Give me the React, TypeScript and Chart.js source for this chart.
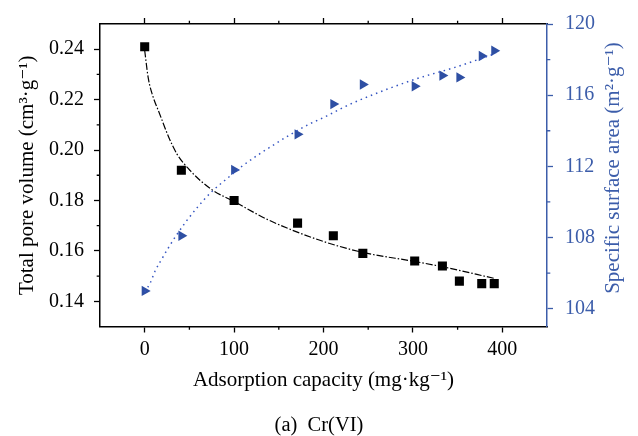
import React, { useEffect, useRef } from "react";
import { Chart, registerables } from "chart.js";

Chart.register(...registerables);

// Measured data
const capacity = [0, 41, 100, 171, 211, 244, 302, 333, 352, 377, 391];
const poreVolume = [0.241, 0.192, 0.18, 0.171, 0.166, 0.159, 0.156, 0.154, 0.148, 0.147, 0.147];
const surfaceArea = [105.0, 108.1, 111.8, 113.8, 115.5, 116.6, 116.5, 117.1, 117.0, 118.2, 118.5];

// Fitted curves
const poreFitX = [0, 4, 9, 16, 27, 36, 51, 75, 100, 137, 196, 244, 302, 333, 391];
const poreFitY = [0.2395, 0.2285, 0.2215, 0.215, 0.205, 0.1985, 0.1918, 0.1843, 0.1796, 0.1725, 0.1642, 0.1594, 0.1558, 0.1537, 0.1491];
const areaFitX = [0, 6, 12, 19, 26, 34, 46, 60, 75, 92, 109, 127, 145, 164, 184, 204, 223, 244, 304, 345, 393];
const areaFitY = [104.95, 105.43, 106.16, 106.78, 107.38, 108.02, 108.88, 109.76, 110.58, 111.31, 112.01, 112.65, 113.23, 113.82, 114.37, 114.84, 115.33, 115.8, 116.92, 117.53, 118.35];

// Axis ticks
const xTicks = [0, 100, 200, 300, 400];
const yTicks = [0.14, 0.16, 0.18, 0.2, 0.22, 0.24];
const y2Ticks = [104, 108, 112, 116, 120];
const xMinorTicks = [50, 150, 250, 350];
const yMinorTicks = [0.15, 0.17, 0.19, 0.21, 0.23];
const y2MinorTicks = [106, 110, 114, 118];

const xTitle = "Adsorption capacity (mg·kg⁻¹)";
const yTitle = "Total pore volume (cm³·g⁻¹)";
const y2Title = "Specific surface area (m²·g⁻¹)";
const subTitle = "(a)  Cr(VI)";

const SERIF = "'Liberation Serif', 'DejaVu Serif', serif";
const BLUE = "#2E4FA3";
const AXIS_BLUE = "#3C5DAA";
const DOT_BLUE = "#3555C2";

const pts = (xs: number[], ys: number[]) => xs.map((x, i) => ({ x, y: ys[i] }));
const setTicks = (vals: number[]) => (s: any) => {
  s.ticks = vals.map((value) => ({ value }));
};

const extrasPlugin = {
  id: "extras",
  afterDraw(chart: any) {
    const ctx = chart.ctx;
    const { x, y, y2 } = chart.scales;
    const area = chart.chartArea;
    ctx.save();
    ctx.lineWidth = 1.3;
    // minor ticks
    ctx.strokeStyle = "#000";
    ctx.beginPath();
    for (const v of xMinorTicks) {
      const px = x.getPixelForValue(v);
      ctx.moveTo(px, area.bottom);
      ctx.lineTo(px, area.bottom + 3.3);
      ctx.moveTo(px, area.top);
      ctx.lineTo(px, area.top - 3.3);
    }
    for (const v of yMinorTicks) {
      const py = y.getPixelForValue(v);
      ctx.moveTo(area.left, py);
      ctx.lineTo(area.left - 3.3, py);
    }
    ctx.stroke();
    ctx.strokeStyle = AXIS_BLUE;
    ctx.beginPath();
    for (const v of y2MinorTicks) {
      const py = y2.getPixelForValue(v);
      ctx.moveTo(area.right, py);
      ctx.lineTo(area.right + 3.3, py);
    }
    ctx.stroke();
    // right axis title, reading bottom to top
    ctx.fillStyle = AXIS_BLUE;
    ctx.font = `21px ${SERIF}`;
    ctx.textAlign = "center";
    ctx.textBaseline = "middle";
    ctx.translate(613, 168);
    ctx.rotate(-Math.PI / 2);
    ctx.fillText(y2Title, 0, 0);
    ctx.restore();
  },
};

export default function App() {
  const ref = useRef<HTMLCanvasElement>(null);
  useEffect(() => {
    document.body.style.margin = "0";
    const canvas = ref.current!;
    const chart = new Chart(canvas, {
      type: "scatter",
      data: {
        datasets: [
          {
            label: "pore fit",
            data: pts(poreFitX, poreFitY),
            yAxisID: "y",
            showLine: true,
            borderColor: "#000",
            borderWidth: 1.2,
            borderDash: [7, 2, 1.5, 2],
            pointRadius: 0,
            cubicInterpolationMode: "monotone",
          },
          {
            label: "area fit",
            data: pts(areaFitX, areaFitY),
            yAxisID: "y2",
            showLine: true,
            borderColor: DOT_BLUE,
            borderWidth: 1.5,
            borderDash: [1.5, 4],
            pointRadius: 0,
            cubicInterpolationMode: "monotone",
          },
          {
            label: "Total pore volume",
            data: pts(capacity, poreVolume),
            yAxisID: "y",
            pointStyle: "rect",
            pointRadius: 6.4,
            backgroundColor: "#000",
            borderColor: "#000",
            borderWidth: 0,
          },
          {
            label: "Specific surface area",
            data: pts(capacity, surfaceArea),
            yAxisID: "y2",
            pointStyle: "triangle",
            rotation: 90,
            pointRadius: 6,
            backgroundColor: BLUE,
            borderColor: BLUE,
            borderWidth: 0,
          },
        ],
      },
      options: {
        responsive: false,
        animation: false,
        events: [],
        layout: { padding: 0 },
        plugins: {
          legend: { display: false },
          tooltip: { enabled: false },
          title: {
            display: true,
            position: "bottom",
            text: subTitle,
            color: "#000",
            font: { family: SERIF, size: 20.5, weight: "normal", lineHeight: 1.0 },
            padding: { top: 3, bottom: 0 },
          },
        },
        scales: {
          x: {
            type: "linear",
            position: "bottom",
            min: -50,
            max: 450,
            afterBuildTicks: setTicks(xTicks),
            afterFit: (s: any) => { s.height = 86; },
            border: { color: "#000", width: 1.5 },
            grid: { drawOnChartArea: false, drawTicks: true, tickLength: 6, tickColor: "#000", tickWidth: 1.3 },
            ticks: { color: "#000", padding: 5, font: { family: SERIF, size: 20 } },
            title: { display: true, text: xTitle, color: "#000", font: { family: SERIF, size: 21 }, padding: { top: 0, bottom: 19 } },
          },
          x2: {
            type: "linear",
            position: "top",
            min: -50,
            max: 450,
            afterBuildTicks: setTicks(xTicks),
            afterFit: (s: any) => { s.height = 18; },
            border: { color: "#000", width: 1.5 },
            grid: { drawOnChartArea: false, drawTicks: true, tickLength: 6, tickColor: "#000", tickWidth: 1.3 },
            ticks: { display: false },
          },
          y: {
            type: "linear",
            position: "left",
            min: 0.13,
            max: 0.25,
            afterBuildTicks: setTicks(yTicks),
            afterFit: (s: any) => { s.width = 100; },
            border: { color: "#000", width: 1.5 },
            grid: { drawOnChartArea: false, drawTicks: true, tickLength: 6, tickColor: "#000", tickWidth: 1.3 },
            ticks: {
              color: "#000",
              padding: 10,
              font: { family: SERIF, size: 20 },
              callback: (v: any) => Number(v).toFixed(2),
            },
            title: { display: true, text: yTitle, color: "#000", font: { family: SERIF, size: 21 }, padding: { top: 15, bottom: 0 } },
          },
          y2: {
            type: "linear",
            position: "right",
            min: 103,
            max: 120,
            afterBuildTicks: setTicks(y2Ticks),
            afterFit: (s: any) => { s.width = 91; },
            border: { color: AXIS_BLUE, width: 1.5 },
            grid: { drawOnChartArea: false, drawTicks: true, tickLength: 6, tickColor: AXIS_BLUE, tickWidth: 1.3 },
            ticks: {
              color: AXIS_BLUE,
              padding: 12,
              font: { family: SERIF, size: 20 },
              callback: (v: any) => String(v),
            },
          },
        },
      },
      plugins: [extrasPlugin],
    } as any);
    return () => chart.destroy();
  }, []);
  return (
    <div style={{ position: "absolute", left: 0, top: 0 }}>
      <canvas ref={ref} width={638} height={436} style={{ display: "block" }} />
    </div>
  );
}
